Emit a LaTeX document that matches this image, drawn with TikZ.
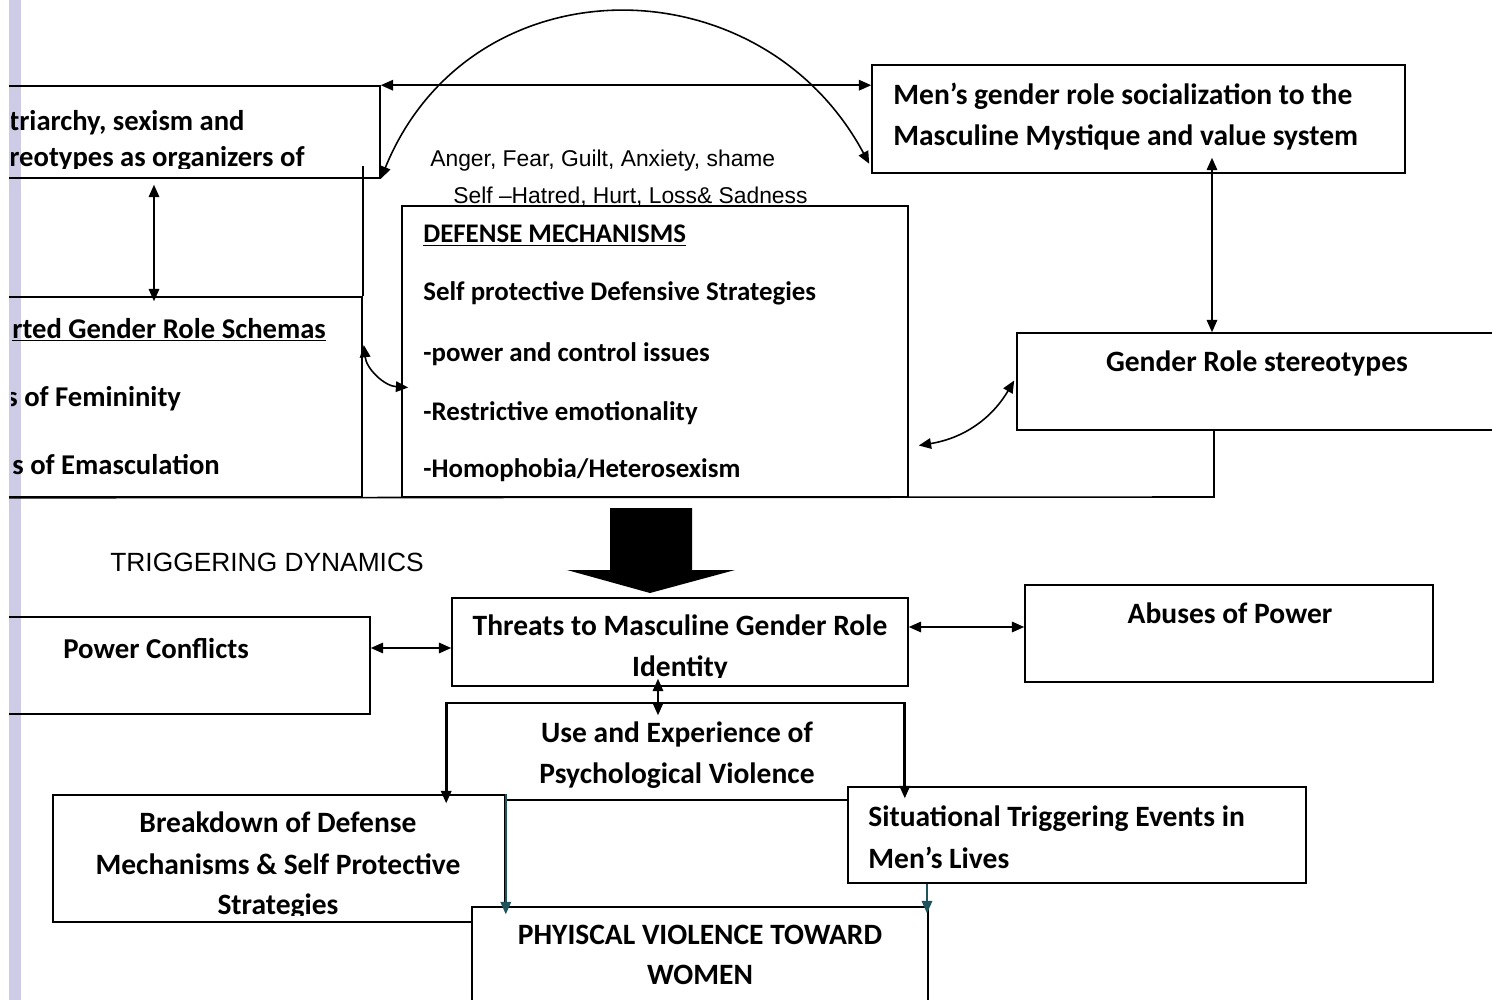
\documentclass[tikz,border=0pt]{standalone}
\usepackage{fontspec}
\setmainfont{Carlito}
\newfontfamily\arialfont{Liberation Sans}
\usetikzlibrary{arrows.meta, fit, calc, positioning}
\definecolor{scanstrip}{RGB}{206,203,230}
\definecolor{scanteal}{RGB}{30,84,92}

\tikzset{
  box/.style={draw, line width=0.9pt, inner sep=0pt},
  cover/.style={fill=white},
  frame/.style={line width=0.9pt},
  lbl/.style={font=\bfseries\fontsize{16.8}{20}\selectfont, inner sep=0pt, anchor=base west},
  clbl/.style={lbl, anchor=base},
  deflbl/.style={lbl, font=\bfseries\fontsize{15.3}{18}\selectfont},
  leftlbl/.style={lbl, font=\bfseries\fontsize{16.3}{19}\selectfont},
  alabel/.style={font=\arialfont\fontsize{13}{15}\selectfont, inner sep=0pt, anchor=base west},
  link/.style={line width=0.9pt, {Triangle[length=7pt,width=6pt]}-{Triangle[length=7pt,width=6pt]}},
  onearrow/.style={line width=0.9pt, -{Triangle[length=7pt,width=6pt]}}
}

\begin{document}
\begin{tikzpicture}[x=0.02cm, y=-0.02cm]
  \useasboundingbox (0,0) rectangle (1492,1000);
  % scan strip on the left
  \fill[scanstrip] (9,0) rectangle (21,1000);

  % upper part
  \node[box, fit={(-10,86) (380,178)}] (patr) {};
  \node[box, fit={(872,65) (1405,173)}] (men) {};
  \node[box, fit={(402,206) (908,497)}] (defense) {};
  \node[box, fit={(-10,297) (362,497)}] (schema) {};
  \node[box, fit={(1017,333) (1520,430)}] (gstereo) {};
  \coordinate (framecorner) at (1214,497);
  \draw[frame] (schema.north east) -- ($(schema.north east |- patr.south)+(0,-13)$);
  \draw[frame] (schema.south west) -- (framecorner) -- (framecorner |- gstereo.south);

  \begin{scope}
    \clip (11,0) rectangle (1492,1000);
    \node[leftlbl] (patrone) at (9,131) {triarchy, sexism and};
    \begin{scope}
      \clip (0,0) rectangle (1492,168.5);
      \node[leftlbl] (patrtwo) at (9,167) {reotypes as organizers of};
    \end{scope}
    \node[leftlbl] (schemaone) at (12,338) {\underline{rted Gender Role Schemas}};
    \node[leftlbl] (schematwo) at (6,407) {s of Femininity};
    \node[leftlbl] (schemathree) at (12,474) {s of Emasculation};
  \end{scope}
  \node[lbl] (menone) at (893,105) {Men’s gender role socialization to the};
  \node[lbl] (mentwo) at (893,146) {Masculine Mystique and value system};

  \node[alabel] (feelone) at (430,167) {Anger, Fear, Guilt, Anxiety, shame};
  \begin{scope}
    \clip (0,0) rectangle (1492,205);
    \node[alabel] (feeltwo) at (453,204) {Self –Hatred, Hurt, Loss\& Sadness};
  \end{scope}

  \node[deflbl] (defone) at (423,243) {\underline{DEFENSE MECHANISMS}};
  \node[deflbl] (deftwo) at (423,301) {Self protective Defensive Strategies};
  \node[deflbl] (defthree) at (423,361) {-power and control issues};
  \node[deflbl] (deffour) at (423,420) {-Restrictive emotionality};
  \node[deflbl] (deffive) at (423,478) {-Homophobia/Heterosexism};

  \node[clbl] (gstereolbl) at (1257,372) {Gender Role stereotypes};

  % connectors, upper part
  \draw[link] (patr.north east) -- (patr.north east -| men.west);
  \draw[link] (patr.south east) .. controls (470,-40) and (760,-40) .. ($(men.south west)+(-2,-10)$);
  \draw[link] ($(patr.south -| 154,0)+(0,6)$) -- ($(schema.north -| 154,0)+(0,5)$);
  \coordinate (mg) at (1212,0);
  \draw[link] ($(mg |- men.south)+(0,-16)$) -- (mg |- gstereo.north);
  \draw[link] ($(schema.east)+(1,-52)$) to[bend right=40] ($(defense.west)+(7,36)$);
  \draw[link] ($(defense.east)+(10,94)$) to[bend right=25] ($(gstereo.west)+(-2,-1)$);

  % big arrow
  \fill (610,508) -- (692,508) -- (692,570) -- (735,570) -- (650,593) -- (567,570) -- (610,570) -- cycle;

  \node[font=\arialfont\fontsize{15}{18}\selectfont, inner sep=0pt, anchor=base west] (trigger) at (110,571) {TRIGGERING DYNAMICS};

  % lower part
  \node[box, fit={(-10,617) (370,714)}] (power) {};
  \node[box, fit={(452,598) (908,686)}] (threat) {};
  \node[box, fit={(1025,585) (1433,682)}] (abuse) {};
  \node[box, fit={(447,703) (904,800)}] (usebox) {};
  \node[box, cover, fit={(53,795) (505,922)}] (breakdown) {};
  \node[box, cover, fit={(848,787) (1306,883)}] (situation) {};
  \node[box, cover, fit={(472,907) (928,1015)}] (physical) {};

  \node[leftlbl, font=\bfseries\fontsize{16.4}{19}\selectfont] (powerlbl) at (63,658) {Power Conflicts};
  \node[clbl] (threatone) at (680,635) {Threats to Masculine Gender Role};
  \begin{scope}
    \clip (452,598) rectangle (908,677.5);
    \node[clbl] (threattwo) at (680,676) {Identity};
  \end{scope}
  \node[clbl] (abuselbl) at (1230,623) {Abuses of Power};
  \node[clbl] (useone) at (677,742) {Use and Experience of};
  \node[clbl] (usetwo) at (677,783) {Psychological Violence};
  \node[clbl] (breakone) at (278,832) {Breakdown of Defense};
  \node[clbl] (breaktwo) at (278,874) {Mechanisms \& Self Protective};
  \begin{scope}
    \clip (53,795) rectangle (505,915.5);
    \node[clbl] (breakthree) at (278,914) {Strategies};
  \end{scope}
  \node[lbl] (sitone) at (868,826) {Situational Triggering Events in};
  \node[lbl] (sittwo) at (868,868) {Men’s Lives};
  \node[clbl] (physone) at (700,944) {PHYISCAL VIOLENCE TOWARD};
  \node[clbl] (phystwo) at (700,984) {WOMEN};

  % connectors, lower part
  \coordinate (pt) at (0,648);
  \draw[link] (power.east |- pt) -- (threat.west |- pt);
  \coordinate (ta) at (0,627);
  \draw[link] (threat.east |- ta) -- (abuse.west |- ta);
  \coordinate (tu) at (658,0);
  \draw[link] ($(tu |- threat.south)+(0,-8)$) -- ($(tu |- usebox.north)+(0,13)$);
  \draw[onearrow] (usebox.north west) -- ($(usebox.north west |- breakdown.north)+(0,9)$);
  \draw[onearrow] (usebox.north east) -- ($(usebox.north east |- situation.north)+(0,12)$);
  \draw[onearrow, scanteal] (breakdown.north east) -- ($(breakdown.north east |- physical.north)+(0,8)$);
  \coordinate (sp) at (927,0);
  \draw[onearrow, scanteal] (sp |- situation.south) -- ($(sp |- physical.north)+(0,7)$);

  % blank margin left of the strip
  \fill[white] (0,0) rectangle (8.5,1000);
\end{tikzpicture}
\end{document}
